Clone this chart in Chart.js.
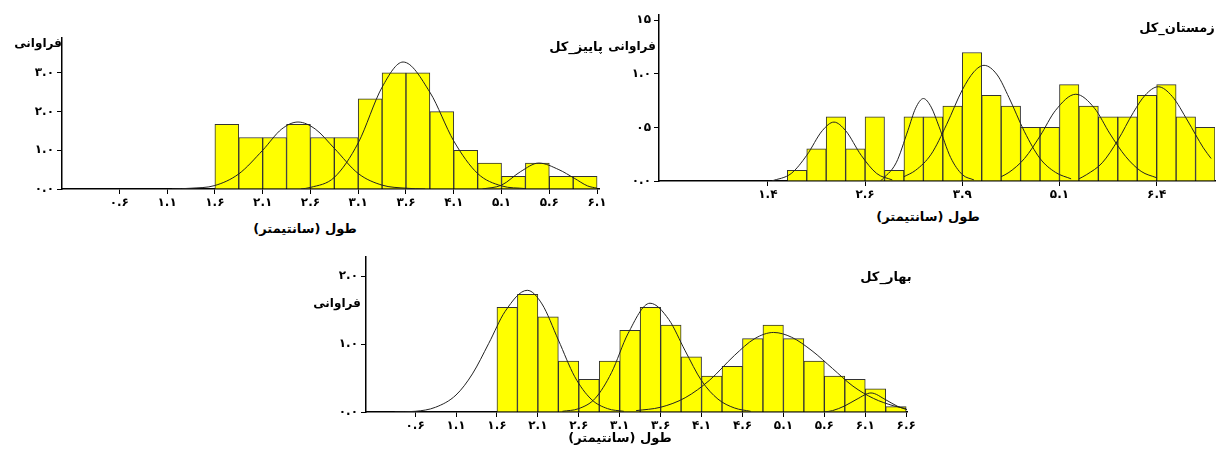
<!DOCTYPE html>
<html>
<head>
<meta charset="utf-8">
<script src="https://cdn.jsdelivr.net/npm/chart.js@4.4.1/dist/chart.umd.min.js"></script>
<style>
  body { margin: 0; background: #fff; width: 1223px; height: 452px; position: relative; overflow: hidden; font-family: "DejaVu Sans", sans-serif; }
  canvas { position: absolute; }
  .t { position: absolute; transform: translate(-50%, -50%); font-weight: bold; font-size: 13px; white-space: nowrap; direction: rtl; color: #000; z-index: 2; }
</style>
</head>
<body>
<canvas id="autumnChart" width="615" height="215" style="left:0;top:0"></canvas>
<canvas id="winterChart" width="608" height="205" style="left:615px;top:0"></canvas>
<canvas id="springChart" width="625" height="190" style="left:300px;top:245px"></canvas>

<div class="t" style="left:38px;top:43px;font-size:12px">فراوانی</div>
<div class="t" style="left:576px;top:46px">پاییز_کل</div>
<div class="t" style="left:305px;top:228px">طول (سانتیمتر)</div>

<div class="t" style="left:632px;top:46px;font-size:12px">فراوانی</div>
<div class="t" style="left:1177px;top:27px">زمستان_کل</div>
<div class="t" style="left:928px;top:216px">طول (سانتیمتر)</div>

<div class="t" style="left:337px;top:303px;font-size:12px">فراوانی</div>
<div class="t" style="left:886px;top:276px">بهار_کل</div>
<div class="t" style="left:620px;top:437px">طول (سانتیمتر)</div>

<script>
// ---- پاییز (top left) ----
const autumnBins = [1.725, 1.975, 2.225, 2.475, 2.725, 2.975, 3.225, 3.475, 3.725, 3.975, 4.225, 4.475, 4.725, 4.975, 5.225, 5.475];
const autumnFreq = [1.67, 1.33, 1.33, 1.67, 1.33, 1.33, 2.33, 3.0, 3.0, 2.0, 1.0, 0.67, 0.33, 0.67, 0.33, 0.33];
const autumnCurve1 = [[1.15, 0], [1.35, 0.02], [1.6, 0.09], [1.85, 0.39], [2.1, 1.0], [2.3, 1.55], [2.47, 1.73], [2.65, 1.55], [2.85, 1.05], [3.1, 0.4], [3.35, 0.1], [3.6, 0.02], [3.8, 0]];
const autumnCurve2 = [[2.5, 0], [2.6, 0.04], [2.85, 0.3], [3.1, 1.19], [3.35, 2.63], [3.57, 3.28], [3.85, 2.5], [4.1, 1.24], [4.35, 0.4], [4.6, 0.08], [4.85, 0.01]];
const autumnCurve3 = [[4.4, 0], [4.6, 0.1], [4.8, 0.45], [4.99, 0.67], [5.2, 0.5], [5.36, 0.28], [5.5, 0.08], [5.6, 0.02]];
const autumnXTicks = [0.6, 1.1, 1.6, 2.1, 2.6, 3.1, 3.6, 4.1, 4.6, 5.1, 5.6];
const autumnXLabels = ['۰.۶', '۱.۱', '۱.۶', '۲.۱', '۲.۶', '۳.۱', '۳.۶', '۴.۱', '۵.۱', '۵.۶', '۶.۱'];
const autumnYTicks = [0, 1, 2, 3];
const autumnYLabels = ['۰.۰', '۱.۰', '۲.۰', '۳.۰'];

// ---- زمستان (top right) ----
const winterBins = [1.775, 2.025, 2.275, 2.525, 2.775, 3.025, 3.275, 3.525, 3.775, 4.025, 4.275, 4.525, 4.775, 5.025, 5.275, 5.525, 5.775, 6.025, 6.275, 6.525, 6.775, 7.025];
const winterFreq = [0.1, 0.3, 0.6, 0.3, 0.6, 0.1, 0.6, 0.6, 0.7, 1.2, 0.8, 0.7, 0.5, 0.5, 0.9, 0.7, 0.6, 0.6, 0.8, 0.9, 0.6, 0.5];
const winterCurve1 = [[1.45, 0], [1.7, 0.07], [1.9, 0.24], [2.1, 0.47], [2.25, 0.55], [2.4, 0.47], [2.6, 0.24], [2.8, 0.07], [3.0, 0.01]];
const winterCurve2 = [[2.85, 0], [3.05, 0.17], [3.2, 0.47], [3.3, 0.68], [3.4, 0.77], [3.5, 0.69], [3.6, 0.51], [3.75, 0.22], [3.9, 0.06], [4.05, 0.01]];
const winterCurve3 = [[3.15, 0.04], [3.3, 0.1], [3.5, 0.25], [3.7, 0.53], [3.9, 0.85], [4.05, 1.02], [4.18, 1.08], [4.35, 0.99], [4.5, 0.78], [4.7, 0.46], [4.9, 0.21], [5.1, 0.08], [5.3, 0.02]];
const winterCurve4 = [[4.4, 0.04], [4.5, 0.08], [4.7, 0.21], [4.9, 0.42], [5.1, 0.66], [5.36, 0.81], [5.6, 0.68], [5.8, 0.44], [6.0, 0.23], [6.2, 0.09], [6.4, 0.03]];
const winterCurve5 = [[5.4, 0.02], [5.5, 0.06], [5.7, 0.17], [5.9, 0.38], [6.1, 0.64], [6.25, 0.8], [6.42, 0.88], [6.6, 0.79], [6.8, 0.56], [7.0, 0.31], [7.1, 0.21]];
const winterXTicks = [1.4, 2.65, 3.9, 5.15, 6.4];
const winterXLabels = ['۱.۴', '۲.۶', '۳.۹', '۵.۱', '۶.۴'];
const winterYTicks = [0, 0.5, 1.0, 1.5];
const winterYLabels = ['۰.۰', '۰۵', '۱.۰', '۱۵'];

// ---- بهار (bottom) ----
const springBins = [1.725, 1.975, 2.225, 2.475, 2.725, 2.975, 3.225, 3.475, 3.725, 3.975, 4.225, 4.475, 4.725, 4.975, 5.225, 5.475, 5.725, 5.975, 6.225, 6.475];
const springFreq = [1.54, 1.73, 1.40, 0.75, 0.48, 0.75, 1.20, 1.54, 1.28, 0.81, 0.53, 0.67, 1.08, 1.28, 1.08, 0.75, 0.53, 0.48, 0.34, 0.08];
const springCurve1 = [[0.35, 0], [0.6, 0.01], [0.85, 0.07], [1.1, 0.25], [1.3, 0.56], [1.5, 1.01], [1.7, 1.48], [1.97, 1.79], [2.15, 1.59], [2.35, 1.06], [2.55, 0.52], [2.75, 0.19], [2.95, 0.05], [3.15, 0.01]];
const springCurve2 = [[2.4, 0.01], [2.6, 0.05], [2.8, 0.2], [3.0, 0.58], [3.2, 1.15], [3.47, 1.6], [3.7, 1.36], [3.9, 0.9], [4.1, 0.46], [4.3, 0.19], [4.5, 0.06], [4.7, 0.01]];
const springCurve3 = [[3.3, 0.02], [3.6, 0.07], [3.9, 0.21], [4.2, 0.47], [4.5, 0.83], [4.75, 1.08], [4.98, 1.17], [5.2, 1.1], [5.45, 0.9], [5.7, 0.64], [5.95, 0.38], [6.2, 0.2], [6.45, 0.09], [6.6, 0.05]];
const springCurve4 = [[5.6, 0], [5.7, 0.02], [5.85, 0.09], [6.0, 0.19], [6.17, 0.28], [6.35, 0.18], [6.5, 0.08], [6.62, 0.03]];
const springXTicks = [0.6, 1.1, 1.6, 2.1, 2.6, 3.1, 3.6, 4.1, 4.6, 5.1, 5.6, 6.1, 6.6];
const springXLabels = ['۰.۶', '۱.۱', '۱.۶', '۲.۱', '۲.۶', '۳.۱', '۳.۶', '۴.۱', '۴.۶', '۵.۱', '۵.۶', '۶.۱', '۶.۶'];
const springYTicks = [0, 1, 2];
const springYLabels = ['۰.۰', '۱.۰', '۲.۰'];

const tickFont = { family: 'DejaVu Sans', weight: 'bold', size: 12 };

function curveSet(points) {
    return {
        type: 'line',
        data: points.map(p => ({ x: p[0], y: p[1] })),
        borderColor: '#222',
        borderWidth: 1,
        pointRadius: 0,
        cubicInterpolationMode: 'monotone',
        fill: false,
        order: 1
    };
}

function histChart(id, cfg) {
    const ctx = document.getElementById(id).getContext('2d');
    const datasets = [{
        type: 'bar',
        data: cfg.bins.map((c, i) => ({ x: c, y: cfg.freq[i] })),
        backgroundColor: '#ffff00',
        borderColor: '#333',
        borderWidth: 1,
        barPercentage: 1,
        categoryPercentage: 1,
        order: 2
    }].concat(cfg.curves.map(curveSet));

    return new Chart(ctx, {
        type: 'bar',
        data: { datasets: datasets },
        options: {
            responsive: false,
            animation: false,
            layout: { padding: cfg.padding },
            plugins: { legend: { display: false }, tooltip: { enabled: false } },
            scales: {
                x: {
                    type: 'linear',
                    min: cfg.xMin, max: cfg.xMax,
                    offset: false,
                    grid: { drawOnChartArea: false, drawTicks: true, tickLength: 5, color: '#000', offset: false },
                    border: { display: true, color: '#000', width: 1.5 },
                    ticks: { autoSkip: false, maxRotation: 0, padding: 2, color: '#000', font: tickFont,
                        callback: (v, i) => cfg.xLabels[i] },
                    afterBuildTicks: s => { s.ticks = cfg.xTicks.map(v => ({ value: v })); },
                    afterFit: s => { s.height = cfg.xHeight; }
                },
                y: {
                    min: 0, max: cfg.yMax,
                    grid: { drawOnChartArea: false, drawTicks: true, tickLength: 5, color: '#000' },
                    border: { display: true, color: '#000', width: 1.5 },
                    ticks: { padding: 3, color: '#000', font: tickFont,
                        callback: (v, i) => cfg.yLabels[i] },
                    afterBuildTicks: s => { s.ticks = cfg.yTicks.map(v => ({ value: v })); },
                    afterFit: s => { s.width = cfg.yWidth; }
                }
            }
        }
    });
}

document.addEventListener("DOMContentLoaded", function () {
    // Autumn
    histChart('autumnChart', {
        bins: autumnBins, freq: autumnFreq,
        curves: [autumnCurve1, autumnCurve2, autumnCurve3],
        xTicks: autumnXTicks, xLabels: autumnXLabels,
        yTicks: autumnYTicks, yLabels: autumnYLabels,
        xMin: 0, xMax: 5.62, yMax: 3.9,
        padding: { left: 0, top: 38, right: 16, bottom: 0 },
        yWidth: 62, xHeight: 26
    });

    // Winter
    histChart('winterChart', {
        bins: winterBins, freq: winterFreq,
        curves: [winterCurve1, winterCurve2, winterCurve3, winterCurve4, winterCurve5],
        xTicks: winterXTicks, xLabels: winterXLabels,
        yTicks: winterYTicks, yLabels: winterYLabels,
        xMin: 0, xMax: 7.15, yMax: 1.55,
        padding: { left: 0, top: 15, right: 8, bottom: 0 },
        yWidth: 44, xHeight: 24
    });

    // Spring
    histChart('springChart', {
        bins: springBins, freq: springFreq,
        curves: [springCurve1, springCurve2, springCurve3, springCurve4],
        xTicks: springXTicks, xLabels: springXLabels,
        yTicks: springYTicks, yLabels: springYLabels,
        xMin: 0, xMax: 6.61, yMax: 2.28,
        padding: { left: 0, top: 12, right: 18, bottom: 0 },
        yWidth: 66, xHeight: 23
    });
});
</script>
</body>
</html>
